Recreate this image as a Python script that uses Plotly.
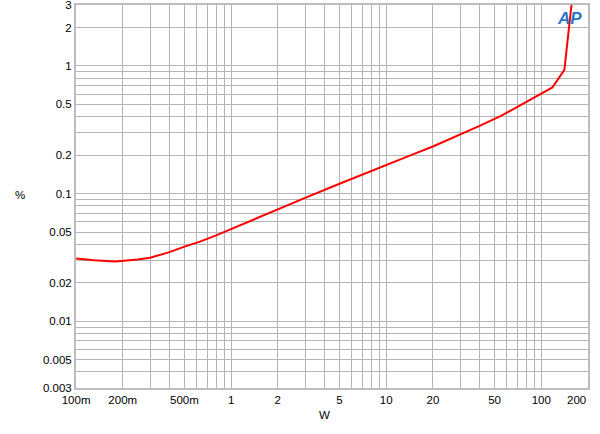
import math
import plotly.graph_objects as go

# Data (THD+N % vs output power W)
power_w = [0.1, 0.13, 0.18, 0.25, 0.3, 0.4, 0.5, 0.63, 0.8, 1, 1.5, 2, 3, 5, 7,
           10, 15, 20, 30, 40, 55, 80, 118, 141, 160]
thd_pct = [0.031, 0.0300, 0.0294, 0.0304, 0.0314, 0.0348, 0.0384, 0.042, 0.047,
           0.0528, 0.0652, 0.0756, 0.0926, 0.1195, 0.1414, 0.169, 0.204, 0.234,
           0.29, 0.339, 0.406, 0.523, 0.678, 0.933, 3.8]

x_tick_vals = [0.1, 0.2, 0.5, 1, 2, 5, 10, 20, 50, 100]
x_tick_text = ["100m", "200m", "500m", "1", "2", "5", "10", "20", "50", "100"]
x_last_label = "200"
y_tick_vals = [0.003, 0.005, 0.01, 0.02, 0.05, 0.1, 0.2, 0.5, 1, 2, 3]
y_tick_text = ["0.003", "0.005", "0.01", "0.02", "0.05", "0.1", "0.2", "0.5", "1", "2", "3"]

def grid_vals(lo, hi):
    out = []
    d = 10 ** math.floor(math.log10(lo))
    while d <= hi:
        for m in range(1, 10):
            v = m * d
            if lo * 0.999 <= v <= hi * 1.001:
                out.append(round(v, 6))
        d *= 10
    return out

xg = grid_vals(0.1, 200)
yg = grid_vals(0.003, 3)

def full_ticks(grid, vals, texts):
    t = []
    for g in grid:
        lab = ""
        for v, s in zip(vals, texts):
            if abs(g - v) / v < 1e-6:
                lab = s
        t.append(lab)
    return t

fig = go.Figure()
fig.add_trace(go.Scatter(x=power_w, y=thd_pct, mode="lines",
                         line=dict(color="#ff0000", width=2),
                         showlegend=False, cliponaxis=True))

font = dict(family="Liberation Sans, Arial, sans-serif", size=11.5, color="#000000")

fig.update_xaxes(type="log", range=[math.log10(0.1) - 0.0005, math.log10(200) + 0.0005],
                 tickvals=xg, ticktext=full_ticks(xg, x_tick_vals, x_tick_text),
                 showgrid=True, gridcolor="#b4b4b4", gridwidth=1,
                 showline=True, linecolor="#bdbdbd", linewidth=2, mirror=True,
                 ticks="", tickfont=font, zeroline=False, automargin=False,
                 ticklabeloverflow="allow")
fig.update_yaxes(type="log", range=[math.log10(0.003) - 0.0005, math.log10(3) + 0.0005],
                 tickvals=yg, ticktext=full_ticks(yg, y_tick_vals, y_tick_text),
                 showgrid=True, gridcolor="#b4b4b4", gridwidth=1,
                 showline=True, linecolor="#bdbdbd", linewidth=2, mirror=True,
                 ticks="", tickfont=font, zeroline=False, automargin=False,
                 ticklabeloverflow="allow")

fig.add_annotation(text=x_last_label, xref="paper", yref="paper", x=0.9785, y=-0.031,
                   showarrow=False, font=font, xanchor="center", yanchor="middle")
fig.add_annotation(text="%", xref="paper", yref="paper", x=-0.109, y=0.504,
                   showarrow=False, font=font, xanchor="center", yanchor="middle")
fig.add_annotation(text="W", xref="paper", yref="paper", x=0.486, y=-0.0705,
                   showarrow=False, font=font, xanchor="center", yanchor="middle")
fig.add_annotation(text="<b><i>AP</i></b>", xref="paper", yref="paper", x=0.963, y=0.966,
                   showarrow=False, xanchor="center", yanchor="middle",
                   font=dict(family="Liberation Sans, Arial, sans-serif", size=17, color="#2a78c8"))

fig.update_layout(width=600, height=434,
                  margin=dict(l=76, r=12, t=5, b=46, autoexpand=False),
                  paper_bgcolor="#ffffff", plot_bgcolor="#ffffff",
                  font=font, hovermode=False)

fig.write_html("out.html", config={"displayModeBar": False},
               post_script="document.body.style.margin='0';")
